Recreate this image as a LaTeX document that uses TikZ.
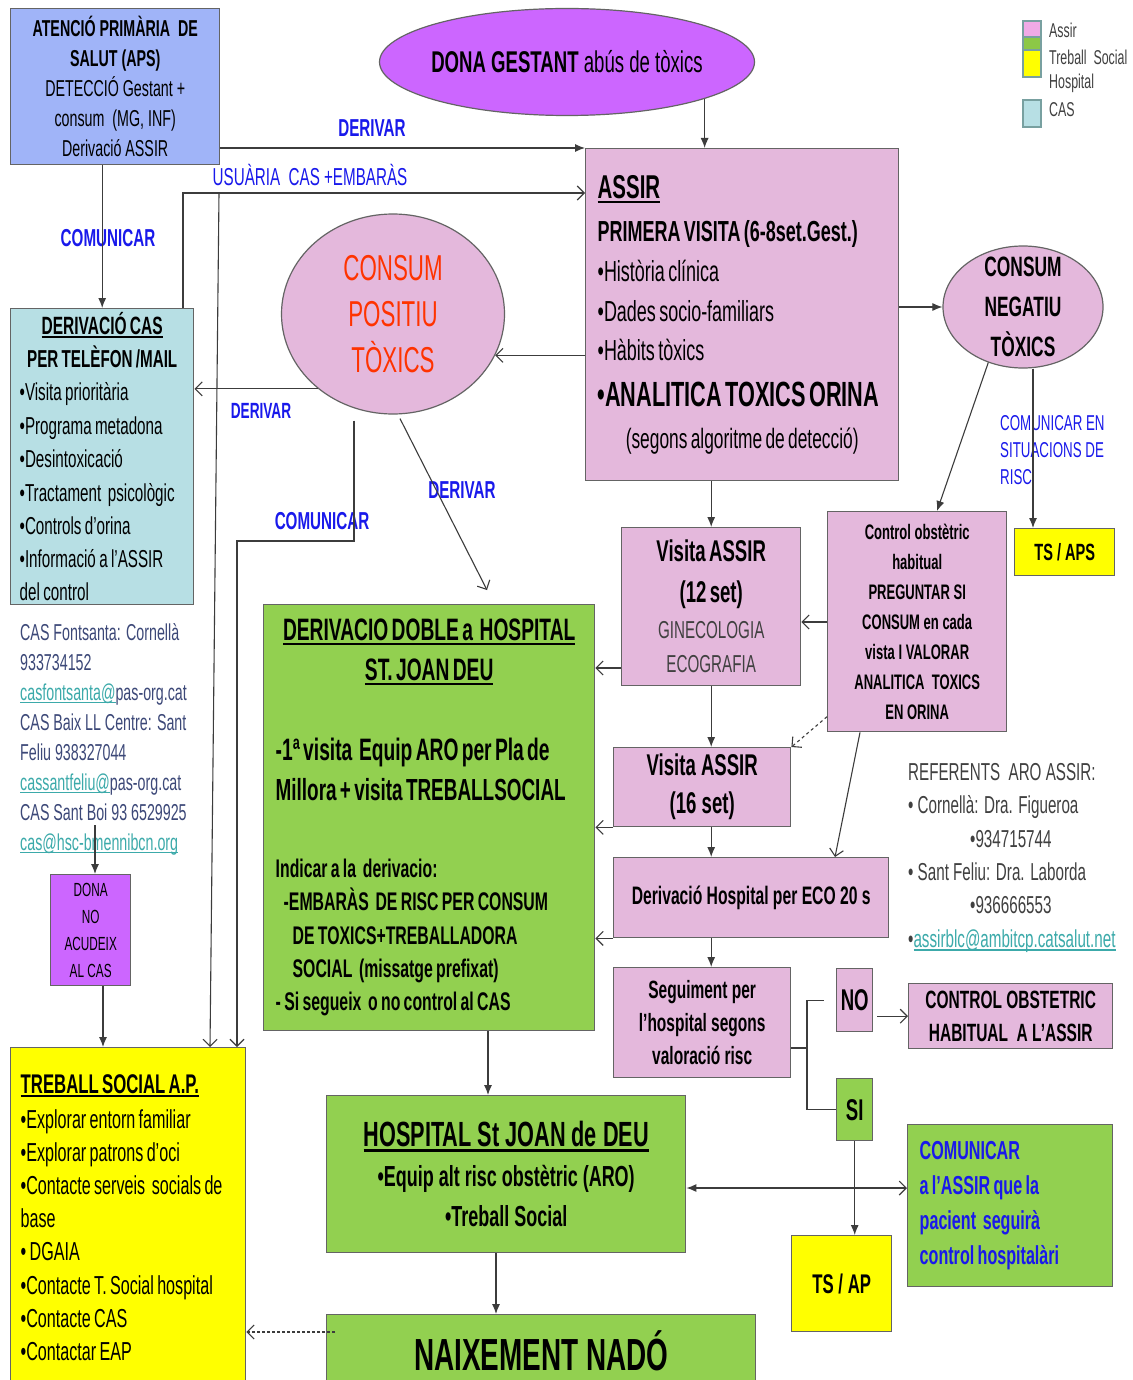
\documentclass[tikz,border=0pt]{standalone}
\usepackage{fontspec}
\setmainfont{Liberation Sans}[FakeStretch=0.62]
\usetikzlibrary{arrows.meta,shapes.geometric}

\definecolor{apsblue}{RGB}{160,180,248}
\definecolor{violeta}{RGB}{204,102,255}
\definecolor{rosa}{RGB}{228,184,220}
\definecolor{blaucas}{RGB}{183,223,228}
\definecolor{verd}{RGB}{146,208,80}
\definecolor{groc}{RGB}{255,255,0}
\definecolor{blautxt}{RGB}{25,25,235}
\definecolor{vermell}{RGB}{255,51,0}
\definecolor{vora}{RGB}{100,100,100}
\definecolor{linia}{RGB}{60,60,60}
\definecolor{teal1}{RGB}{60,170,170}
\definecolor{casblau}{RGB}{60,72,120}
\definecolor{grisref}{RGB}{64,64,64}
\definecolor{llegvora}{RGB}{120,160,160}
\definecolor{llegrosa}{RGB}{240,170,230}
\definecolor{llegverd}{RGB}{140,200,70}

\newcommand\fsz[2]{\fontsize{#1}{#2}\selectfont}
\newcommand\tline[3]{{\fsz{#1}{#2}\mbox{#3}\par}}
\newcommand\ulx[1]{\setbox0\hbox{#1}\rlap{\rule[-0.14em]{\wd0}{0.07em}}\box0}

\begin{document}
\begin{tikzpicture}[x=1pt,y=-1pt,
    box/.style={draw=vora, line width=1.4pt, anchor=north west, inner sep=0pt, align=center},
    ell/.style={ellipse, draw=vora, line width=1.2pt, inner sep=-12pt, align=center},
    lbl/.style={text=blautxt, inner sep=0pt, font={\fsz{24.5}{28}\bfseries}},
    fa/.style={draw=linia, line width=1.1pt, -{Latex[length=10pt,width=8pt]}},
    oa/.style={draw=linia, line width=1.1pt, -{Straight Barb[length=7pt,width=14pt]}}]

    \fill[white] (0,0) rectangle (1132,1380);
    \useasboundingbox (0,0) rectangle (1132,1380);

    % top row
    \node[box, fill=apsblue, minimum width=209pt, minimum height=156pt, font={\fsz{23}{30}}] (aps) at (10,8)
        {\textbf{ATENCIÓ PRIMÀRIA~ DE}\\\textbf{SALUT (APS)}\\DETECCIÓ Gestant +\\consum~ (MG, INF)\\Derivació ASSIR};
    \node[ell, fill=violeta, minimum width=375pt, minimum height=107pt, font={\fsz{30}{34}}] (dona) at (567,62)
        {\textbf{DONA GESTANT} abús de tòxics};

    % legend
    \draw[draw=llegvora, line width=1.3pt, fill=llegrosa] (1023,21) rectangle (1041,37);
    \draw[draw=llegvora, line width=1.3pt, fill=llegverd] (1023,37) rectangle (1041,50);
    \draw[draw=llegvora, line width=1.3pt, fill=groc] (1023,50) rectangle (1041,77);
    \draw[draw=llegvora, line width=1.3pt, fill=blaucas] (1023,100) rectangle (1041,127);
    \node[anchor=west, inner sep=0pt, text=grisref, font={\fsz{20}{22}}] (lassir) at (1049,30) {Assir};
    \node[anchor=west, inner sep=0pt, text=grisref, font={\fsz{20}{22}}] (ltreball) at (1049,57) {Treball~ Social};
    \node[anchor=west, inner sep=0pt, text=grisref, font={\fsz{20}{22}}] (lhospital) at (1049,83) {Hospital};
    \node[anchor=west, inner sep=0pt, text=grisref, font={\fsz{20}{22}}] (lcas) at (1049,110) {CAS};

    % ASSIR and the two results
    \node[box, fill=rosa, minimum width=313pt, minimum height=332pt, text width=289pt, inner xsep=12pt, align=left] (assir) at (585,148) {%
        \tline{33}{40}{\textbf{\ulx{ASSIR}}}%
        \tline{29}{43}{\textbf{PRIMERA VISITA (6-8set.Gest.)}}%
        \tline{29}{40}{•Història clínica}%
        \tline{29}{40}{•Dades socio-familiars}%
        \tline{29}{39}{•Hàbits tòxics}%
        \tline{35}{46}{\textbf{•ANALITICA TOXICS ORINA}}%
        {\centering\tline{28}{42}{(segons algoritme de detecció)}}%
        \vspace*{15pt}};
    \node[ell, fill=rosa, minimum width=223pt, minimum height=200pt, text=vermell, font={\fsz{36}{46}}] (cpos) at (393,314)
        {CONSUM\\POSITIU\\TÒXICS};
    \node[ell, fill=rosa, minimum width=160pt, minimum height=122pt, font={\fsz{28}{40}\bfseries}] (cneg) at (1023,307)
        {CONSUM\\NEGATIU\\TÒXICS};

    % left column
    \node[box, fill=blaucas, minimum width=183pt, minimum height=296pt, text width=165pt, inner xsep=9pt, align=left] (cas) at (10,308) {%
        {\centering
        \tline{25}{30}{\textbf{\ulx{DERIVACIÓ CAS}}}%
        \tline{24.5}{33}{\textbf{PER TELÈFON /MAIL}}}%
        \tline{24.5}{33}{•Visita prioritària}%
        \tline{24.5}{34}{•Programa metadona}%
        \tline{24.5}{33}{•Desintoxicació}%
        \tline{24.5}{34}{•Tractament~ psicològic}%
        \tline{24.5}{33}{•Controls d'orina}%
        \tline{24.5}{33}{•Informació a l'ASSIR}%
        \tline{24.5}{33}{del control}};
    \node[anchor=north west, inner sep=0pt, align=left, text=casblau, font={\fsz{23}{30}}] (contactes) at (20,623)
        {CAS Fontsanta: Cornellà\\933734152\\{\color{teal1}\ulx{casfontsanta@}}pas-org.cat\\CAS Baix LL Centre: Sant\\Feliu 938327044\\{\color{teal1}\ulx{cassantfeliu@}}pas-org.cat\\CAS Sant Boi 93 6529925\\{\color{teal1}\ulx{cas@hsc-bmennibcn.org}}};
    \node[box, fill=violeta, minimum width=80pt, minimum height=111pt, font={\fsz{19}{27}}] (dno) at (50,874)
        {DONA\\NO\\ACUDEIX\\AL CAS};
    \node[box, fill=groc, minimum width=235pt, minimum height=340pt, text width=215pt, inner xsep=10pt, align=left] (tsoc) at (10,1047) {%
        \tline{27}{30}{\textbf{\ulx{TREBALL SOCIAL A.P.}}}%
        \tline{26}{35}{•Explorar entorn familiar}%
        \tline{26}{33}{•Explorar patrons d'oci}%
        \tline{26}{33}{•Contacte serveis~ socials de}%
        \tline{26}{33}{base}%
        \tline{26}{33}{• DGAIA}%
        \tline{26}{34}{•Contacte T. Social hospital}%
        \tline{26}{33}{•Contacte CAS}%
        \tline{26}{33}{•Contactar EAP}};

    % hospital referral
    \node[box, fill=verd, minimum width=331pt, minimum height=426pt, text width=307pt, inner xsep=12pt, align=left] (dd) at (263,604) {%
        {\centering
        \tline{31}{35}{\textbf{\ulx{DERIVACIO DOBLE a~ HOSPITAL}}}%
        \tline{31}{40}{\textbf{\ulx{ST. JOAN DEU}}}}%
        \tline{31}{80}{\textbf{-1ª visita~ Equip ARO per Pla de}}%
        \tline{30.5}{40}{\textbf{Millora + visita TREBALLSOCIAL}}%
        \tline{25.5}{77}{\textbf{Indicar a la~ derivacio:}}%
        \tline{25.5}{33}{\textbf{\hspace*{8pt}-EMBARÀS~ DE RISC PER CONSUM}}%
        \tline{25.5}{34}{\textbf{\hspace*{17pt}DE TOXICS+TREBALLADORA}}%
        \tline{25.5}{33}{\textbf{\hspace*{17pt}SOCIAL~ (missatge prefixat)}}%
        \tline{25.5}{33}{\textbf{- Si segueix~ o no control al CAS}}};

    % ASSIR follow-up column
    \node[box, fill=rosa, minimum width=179pt, minimum height=158pt, text width=171pt, inner xsep=4pt] (v12) at (621,527) {%
        \tline{30}{34}{\textbf{Visita ASSIR}}%
        \tline{30}{41}{\textbf{(12 set)}}%
        \tline{24.5}{36}{\color{grisref}GINECOLOGIA}%
        \tline{24.5}{34}{\color{grisref}ECOGRAFIA}};
    \node[box, fill=rosa, minimum width=179pt, minimum height=220pt, font={\fsz{21}{30}\bfseries}] (cob) at (827,511)
        {Control obstètric\\habitual\\PREGUNTAR SI\\CONSUM en cada\\vista I VALORAR\\ANALITICA~ TOXICS\\EN ORINA};
    \node[box, fill=groc, minimum width=100pt, minimum height=47pt, font={\fsz{23.5}{28}\bfseries}] (tsaps) at (1014,528) {TS / APS};
    \node[box, fill=rosa, minimum width=177pt, minimum height=79pt, font={\fsz{30}{38}\bfseries}] (v16) at (613,747)
        {Visita ASSIR\\(16 set)};
    \node[anchor=north west, inner sep=0pt, align=left, text=grisref, font={\fsz{24.5}{33.4}}] (refs) at (908,763)
        {REFERENTS~ ARO ASSIR:\\• Cornellà: Dra. Figueroa\\\hspace*{62pt}•934715744\\• Sant Feliu: Dra. Laborda\\\hspace*{62pt}•936666553\\•{\color{teal1}\ulx{assirblc@ambitcp.catsalut.net}}};
    \node[box, fill=rosa, minimum width=275pt, minimum height=80pt, font={\fsz{25.3}{30}\bfseries}] (eco) at (613,857)
        {Derivació Hospital per ECO 20 s};
    \node[box, fill=rosa, minimum width=177pt, minimum height=110pt, font={\fsz{25}{33}\bfseries}] (seg) at (613,967)
        {Seguiment per\\l'hospital segons\\valoració risc};
    \node[box, fill=rosa, minimum width=36pt, minimum height=63pt, font={\fsz{30}{34}\bfseries}] (no) at (836,968) {NO};
    \node[box, fill=rosa, minimum width=204pt, minimum height=65pt, font={\fsz{25}{33}\bfseries}] (cobh) at (908,983)
        {CONTROL OBSTETRIC\\HABITUAL~ A L'ASSIR};
    \node[box, fill=verd, minimum width=36pt, minimum height=62pt, font={\fsz{30}{34}\bfseries}] (si) at (836,1078) {SI};

    % bottom
    \node[box, fill=verd, minimum width=359pt, minimum height=157pt, font={\fsz{29}{40}\bfseries}] (hsp) at (326,1095)
        {{\fsz{35}{40}\ulx{HOSPITAL St JOAN de DEU}}\\•Equip alt risc obstètric (ARO)\\•Treball Social};
    \node[box, fill=groc, minimum width=100pt, minimum height=96pt, font={\fsz{27}{30}\bfseries}] (tsap) at (791,1235) {TS / AP};
    \node[box, fill=verd, minimum width=205pt, minimum height=162pt, text width=181pt, inner xsep=12pt, align=left, text=blautxt, font={\bfseries}] (com) at (907,1124) {%
        \tline{26}{35}{COMUNICAR}%
        \tline{26}{35}{a l'ASSIR que la}%
        \tline{26}{35}{pacient~ seguirà}%
        \tline{26}{35}{control hospitalàri}};
    \node[box, fill=verd, minimum width=429pt, minimum height=72pt, font={\fsz{45}{50}\bfseries}] (nai) at (326,1314) {NAIXEMENT NADÓ};

    % labels
    \node[lbl] (lderivar1) at (372,128) {DERIVAR};
    \node[lbl, font={\fsz{24.5}{28}}] (lusuaria) at (310,175) {USUÀRIA~ CAS +EMBARÀS};
    \node[lbl] (lcomunicar1) at (108,238) {COMUNICAR};
    \node[lbl, font={\fsz{22}{26}\bfseries}] (lderivar2) at (261,411) {DERIVAR};
    \node[lbl] (lderivar3) at (462,490) {DERIVAR};
    \node[lbl] (lcomunicar2) at (322,521) {COMUNICAR};
    \node[lbl, font={\fsz{21.5}{27}}, anchor=north west, align=left] (lrisc) at (1000,415) {COMUNICAR EN\\SITUACIONS DE\\RISC};

    % bends and levels
    \coordinate (usu) at (183,193);
    \coordinate (brtsoc) at (219,193);
    \coordinate (cbend) at (237,541);
    \coordinate (y622) at (0,622);
    \coordinate (y668) at (0,668);
    \coordinate (y825) at (95,825);
    \coordinate (x103) at (103,0);
    \coordinate (br) at (807,1048);
    \coordinate (y1188) at (0,1188);
    \coordinate (x488) at (488,0);
    \coordinate (x496) at (496,0);
    \coordinate (y1332) at (0,1332);
    \coordinate (negts) at ([xshift=10pt]cneg.south);

    % connectors
    \draw[fa] (aps.east |- assir.north west) -- (assir.north west);
    \draw[oa] (usu |- cas.north) -- (usu) -- (assir.west |- usu);
    \draw[oa] (brtsoc) -- ([xshift=200pt]tsoc.north west);
    \draw[fa] (cas.north |- aps.south) -- (cas.north);
    \draw[oa] (assir.west |- cpos.-22) -- (cpos.-22);
    \draw[oa] (cpos.225) -- (cas.east |- cpos.225);
    \draw[oa] ([xshift=-39pt,yshift=-6pt]cpos.south) |- (cbend) -- (cbend |- tsoc.north);
    \draw[oa] ([xshift=7pt,yshift=-4pt]cpos.south) -- ([xshift=224pt,yshift=14pt]dd.north west);
    \draw[fa] (dona.-15) -- (dona.-15 |- assir.north);
    \draw[fa] (assir.east |- cneg.west) -- (cneg.west);
    \draw[fa] (cneg.238) -- ([xshift=110pt]cob.north west);
    \draw[fa] (negts) -- (negts |- tsaps.north);
    \draw[fa] (assir.south -| v12.north) -- (v12.north);
    \draw[oa] (cob.west |- y622) -- (v12.east |- y622);
    \draw[oa] (v12.west |- y668) -- (dd.east |- y668);
    \draw[fa] (v12.south) -- (v16.north -| v12.south);
    \draw[oa, dashed] ([yshift=-95pt]cob.west) -- (v16.north east);
    \draw[oa] ([xshift=33pt]cob.south west) -- ([xshift=222pt]eco.north west);
    \draw[oa] (v16.south west) -- (dd.east |- v16.south west);
    \draw[fa] (v16.south -| v12.south) -- (eco.north -| v12.south);
    \draw[oa] (eco.south west) -- (dd.east |- eco.south west);
    \draw[fa] (eco.south -| v12.south) -- (seg.north -| v12.south);
    \draw[draw=linia, line width=1.1pt] (seg.east |- br) -- (br) |- ([xshift=-12pt]no.west);
    \draw[draw=linia, line width=1.1pt] (br) |- (si.west);
    \draw[oa, shorten <=4pt] (no.east |- cobh.west) -- (cobh.west);
    \draw[fa] (si.south) -- (si.south |- tsap.north);
    \draw[draw=linia, line width=1.1pt, {Latex[length=10pt,width=8pt]}-{Straight Barb[length=7pt,width=14pt]}] (hsp.east |- y1188) -- (com.west |- y1188);
    \draw[fa] (dd.south -| x488) -- (hsp.north -| x488);
    \draw[fa] (hsp.south -| x496) -- (nai.north -| x496);
    \draw[oa, densely dashed, shorten <=-9pt] (nai.west |- y1332) -- (tsoc.east |- y1332);
    \draw[fa] (y825) -- (dno.north -| y825);
    \draw[fa] (dno.south -| x103) -- (tsoc.north -| x103);
\end{tikzpicture}
\end{document}
